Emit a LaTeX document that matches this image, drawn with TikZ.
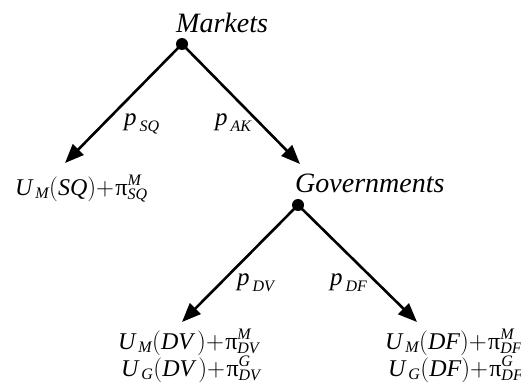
\documentclass[tikz,border=0pt]{standalone}
\usepackage{amsmath}
\usepackage{fontspec}
\setmainfont{Liberation Serif}
\usetikzlibrary{arrows.meta}
\DeclareMathSizes{24}{24}{16}{12}
\DeclareMathSizes{25}{25}{16}{12}
\newcommand{\ti}[1]{\textit{#1}}
\newcommand{\pl}{{+}\mkern1mu}
\newcommand{\scr}{\fontsize{16}{16}\selectfont\itshape}
\newcommand{\ps}[2]{π\rlap{\raisebox{0.38em}{\scr #1}}\raisebox{-0.18em}{\scr #2}}
\begin{document}
\begin{tikzpicture}[x=1pt,y=-1pt,
  dot/.style={circle,fill=black,inner sep=0pt,minimum size=12pt},
  arr/.style={line width=2.6pt,-{Triangle[length=19pt,width=15pt]}},
  head/.style={inner sep=0pt,anchor=base west,font=\fontsize{28}{30}\selectfont\itshape},
  lbl/.style={inner sep=0pt,anchor=base west,font=\fontsize{25}{28}\selectfont},
  pay/.style={inner sep=0pt,anchor=base west,font=\fontsize{24}{28}\selectfont}]
\useasboundingbox (0,0) rectangle (521,385);
% nodes
\node[head] (mk) at (176,33) {Markets};
\node[dot] (m) at (182,44) {};
\node[head] (gv) at (295,192) {Governments};
\node[dot] (g) at (298,205) {};
\node[pay] (sq) at (15,195) {$\ti{U}_{\,\ti{M}}(\ti{SQ})\pl$\ps{M}{SQ}};
\node[pay] (dv1) at (118,349) {$\ti{U}_{\,\ti{M}}(\ti{DV}\,)\pl$\ps{M}{DV}};
\node[pay] (dv2) at (121,376) {$\ti{U}_{\,\ti{G}}(\ti{DV}\,)\pl$\ps{G}{DV}};
\node[pay] (df1) at (385,349) {$\ti{U}_{\,\ti{M}}(\ti{DF})\pl$\ps{M}{DF}};
\node[pay] (df2) at (388,376) {$\ti{U}_{\,\ti{G}}(\ti{DF})\pl$\ps{G}{DF}};
% arrow ends
\coordinate (sqend) at (65,163);
\coordinate (gvend) at (300,164);
\coordinate (dvend) at (182,322);
\coordinate (dfend) at (417,322);
% connectors
\draw[arr] (m.center) -- (sqend);
\draw[arr] (m.center) -- (gvend);
\draw[arr] (g.center) -- (dvend);
\draw[arr] (g.center) -- (dfend);
% labels
\node[lbl] (psq) at (124,125) {$\ti{p}_{\,\ti{SQ}}$};
\node[lbl] (pak) at (215,125) {$\ti{p}_{\,\ti{AK}}$};
\node[lbl] (pdv) at (237,285) {$\ti{p}_{\,\ti{DV}}$};
\node[lbl] (pdf) at (330,285) {$\ti{p}_{\,\ti{DF}}$};
\end{tikzpicture}
\end{document}
